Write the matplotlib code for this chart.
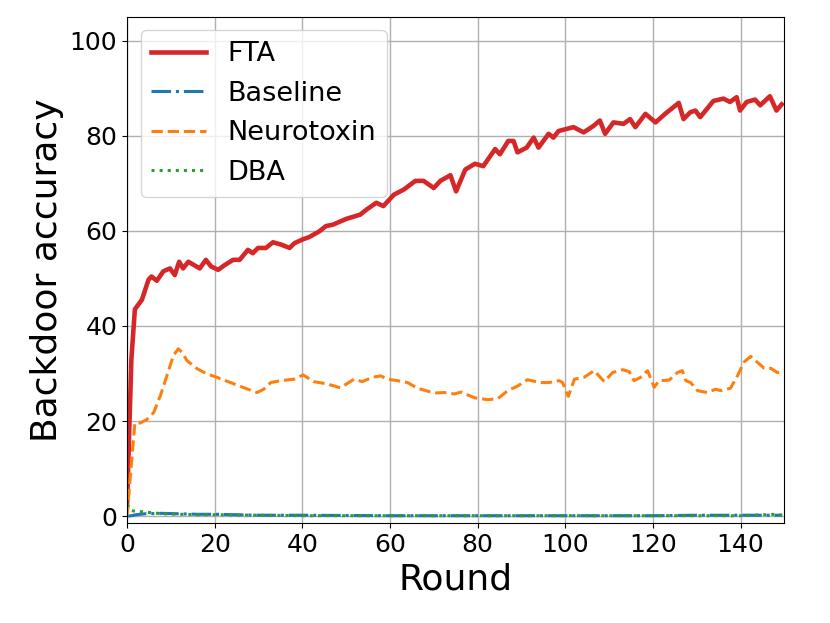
import matplotlib
matplotlib.use("Agg")
import matplotlib.pyplot as plt

fta_rounds = [0, 1, 1.8, 3.4, 4.9, 5.6, 6.8, 8.3, 9.8, 10.9, 11.9, 12.8, 14, 16.6, 18, 19.2,
              20.8, 22.3, 24.2, 25.7, 27.6, 28.7, 29.9, 31.7, 33.3, 35.2, 37.1, 38.2, 40.1,
              41.6, 43.9, 45.4, 47, 50, 53.2, 54.7, 56.9, 58.5, 60.9, 63.2, 65.8, 67.7, 70,
              71.5, 73.8, 75.1, 77.2, 79.4, 81.3, 84, 85.1, 87, 88.2, 89.1, 91.2, 92.8, 93.9,
              96.2, 97.3, 98.5, 101.9, 104.2, 106.5, 107.9, 109.1, 111, 113.3, 114.8, 116,
              118.3, 120.6, 122.8, 125.9, 127, 128.5, 129.7, 130.8, 133.8, 136.1, 137.6,
              139.1, 139.9, 141.4, 143.3, 144.5, 146.7, 148.2, 149.4]
fta_acc = [2, 33, 43.5, 45.5, 49.7, 50.4, 49.5, 51.5, 52.1, 50.7, 53.5, 52.1, 53.5, 52.1, 53.9,
           52.5, 51.8, 52.8, 53.9, 53.9, 56, 55.3, 56.4, 56.4, 57.6, 57.1, 56.4, 57.4, 58.2,
           58.7, 59.9, 61, 61.3, 62.5, 63.4, 64.5, 65.9, 65.2, 67.6, 68.7, 70.5, 70.5, 69,
           70.5, 71.7, 68.3, 72.9, 74.1, 73.6, 77.2, 76.1, 78.9, 78.9, 76.5, 77.5, 79.6, 77.5,
           80.4, 79.6, 81, 81.8, 80.7, 82.1, 83.2, 80.4, 82.8, 82.5, 83.5, 81.8, 84.6, 82.8,
           84.6, 86.9, 83.5, 84.9, 85.3, 83.9, 87.3, 87.8, 87.1, 88.1, 85.3, 87.1, 87.6, 86.4,
           88.3, 85.3, 86.6]

neuro_rounds = [0, 1.8, 3, 4.5, 6.1, 7.6, 9.1, 10.6, 11.7, 12.5, 13.7, 16, 18.3, 20.5, 23.6,
                26.7, 29.7, 31.2, 32.8, 35.1, 38.1, 40.2, 42.6, 45.7, 48.7, 51.8, 53.7, 56,
                57.9, 59.4, 61.7, 64, 66.3, 70.1, 72.4, 74.7, 76.2, 79.3, 82.3, 84.6, 86.9,
                89.2, 91.4, 94.1, 96.3, 98.6, 99.4, 100.7, 102.1, 104.3, 106.6, 108.9, 110.8,
                113.1, 114.6, 115.7, 117.2, 118.8, 120.3, 121.4, 123.7, 125.6, 126.7, 127.5,
                128.6, 130.2, 132.4, 134.3, 135.5, 137.7, 139.3, 140.8, 142.3, 143.8, 145.4,
                146.9, 148.4, 149.5]
neuro_acc = [0, 19.6, 19.6, 20.3, 21.8, 25.3, 29.5, 33.8, 35.2, 34.5, 32.7, 31, 29.9, 29.2,
             28.1, 27, 26, 26.7, 28.1, 28.5, 28.8, 29.7, 28.3, 27.8, 27, 28.8, 28.3, 29.2,
             29.5, 28.8, 28.5, 28.1, 26.9, 25.9, 26, 25.7, 26.1, 24.9, 24.5, 24.7, 26.4,
             27.4, 28.7, 28.1, 28.1, 28.5, 28.1, 25.2, 28.8, 29.2, 30.6, 28.3, 30.2, 30.8,
             30.4, 28.5, 29.2, 30.6, 27.1, 28.5, 28.6, 30.2, 30.6, 28.5, 28.1, 26.4, 26,
             26.7, 26.4, 26.9, 29.5, 32.4, 33.6, 32.4, 31.1, 31.1, 30.2, 30.5]

base_rounds = [0, 1, 2, 4, 8, 12, 16, 20, 30, 40, 60, 80, 100, 120, 130, 140, 149.5]
base_acc = [0, 0.1, 0.3, 0.5, 0.6, 0.5, 0.4, 0.4, 0.2, 0.2, 0.1, 0.1, 0.1, 0.1, 0.2, 0.2, 0.2]

dba_rounds = [0, 1, 2, 4, 6, 8, 12, 16, 20, 30, 40, 60, 80, 100, 120, 140, 148, 149.5]
dba_acc = [2.5, 1.2, 1.0, 0.9, 0.7, 0.5, 0.4, 0.3, 0.3, 0.2, 0.1, 0.1, 0.1, 0.1, 0.1, 0.1, 0.4, 0.2]

fig, ax = plt.subplots(figsize=(8.3, 6.23), dpi=100)
ax.plot(fta_rounds, fta_acc, color="#d62728", lw=3.3, label="FTA")
ax.plot(base_rounds, base_acc, color="#1f77b4", lw=2.2, ls="-.", label="Baseline")
ax.plot(neuro_rounds, neuro_acc, color="#ff7f0e", lw=2.2, ls="--", label="Neurotoxin")
ax.plot(dba_rounds, dba_acc, color="#2ca02c", lw=2.2, ls=":", label="DBA")

ax.set_xlim(0, 150)
ax.set_ylim(-1.5, 105)
ax.set_xticks(range(0, 141, 20))
ax.set_yticks(range(0, 101, 20))
ax.tick_params(labelsize=18)
ax.set_xlabel("Round", fontsize=26)
ax.set_ylabel("Backdoor accuracy", fontsize=26)
ax.grid(True, color="#b0b0b0", lw=1)
ax.legend(loc="upper left", fontsize=19.5)
fig.subplots_adjust(left=0.153, right=0.945, top=0.973, bottom=0.16)
fig.savefig("out.png")
